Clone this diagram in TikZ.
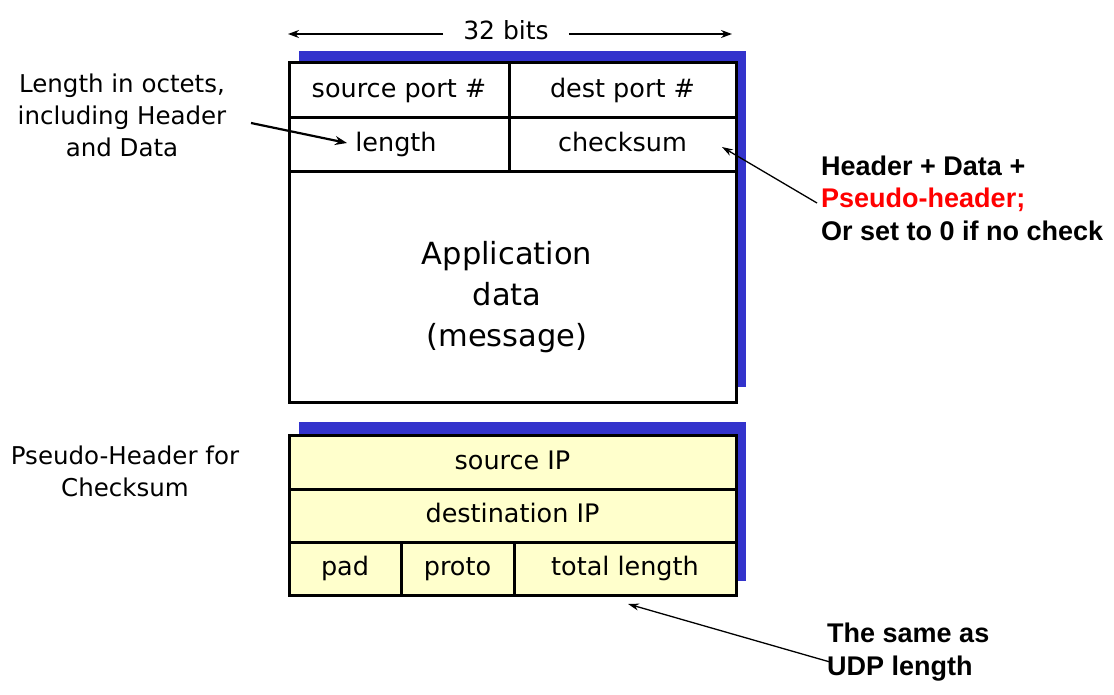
\documentclass[tikz,border=0pt]{standalone}
\usepackage{fontspec}
\setmainfont{DejaVu Sans}
\newfontfamily\arialfont{Liberation Sans}
\usetikzlibrary{arrows.meta}
\definecolor{shadowblue}{HTML}{3333CC}
\definecolor{pseudoyellow}{HTML}{FFFFCC}
\definecolor{notered}{HTML}{FF0000}
\begin{document}
\begin{tikzpicture}[x=1pt,y=-1pt,
  cell/.style={draw=black, line width=3pt, inner sep=0pt, text height=19.5pt, text depth=5.5pt, font=\fontsize{25.5}{28}\selectfont},
  ycell/.style={cell, fill=pseudoyellow},
  note/.style={font=\fontsize{24.5}{32}\selectfont, align=center},
  bnote/.style={font=\arialfont\bfseries\fontsize{27}{32.5}\selectfont, align=left, inner sep=0pt},
  dimarrow/.style={-{Stealth[length=11pt,width=8pt]}, line width=1.8pt},
  ptr/.style={-{Stealth[length=11pt,width=7pt]}, line width=1.3pt},
  boldptr/.style={-{Stealth[length=12pt,width=9pt]}, line width=2.2pt}
]
\useasboundingbox (0,0) rectangle (1114,695);
% shadows
\fill[shadowblue] (299,51) rectangle (746,387);
\fill[shadowblue] (299,422) rectangle (746,581);
% 32 bits
\node[font=\fontsize{25}{28}\selectfont, inner xsep=20pt] (bits) at (506,30) {32 bits};
\coordinate (bl) at (288,34);
\coordinate (br) at (732,34);
\draw[dimarrow] (bits.west |- bl) -- (bl);
\draw[dimarrow] (bits.east |- br) -- (br);
% UDP header
\node[draw=black, line width=3pt, fill=white, minimum width=447pt, minimum height=230pt] (data) at (512.5,287) {};
\node[cell, fill=white, minimum width=220pt, minimum height=55pt] (sport) at (399,90.5) {source port \#};
\node[cell, fill=white, minimum width=227pt, minimum height=55pt] (dport) at (622.5,90.5) {dest port \#};
\node[cell, fill=white, minimum width=220pt, minimum height=54pt] (len) at (399,145) {\hspace*{-6pt}length};
\node[cell, fill=white, minimum width=227pt, minimum height=54pt] (cksum) at (622.5,145) {checksum};
\node[font=\fontsize{30.5}{41}\selectfont, align=center] (apptext) at (507,297) {Application\\data\\(message)};
% pseudo header
\node[ycell, minimum width=447pt, minimum height=54pt] (srcip) at (512.5,462) {source IP};
\node[ycell, minimum width=447pt, minimum height=53pt] (dstip) at (512.5,515.5) {destination IP};
\node[ycell, minimum width=112pt, minimum height=53pt] (pad) at (345,568.5) {pad};
\node[ycell, minimum width=113pt, minimum height=53pt] (proto) at (457.5,568.5) {proto};
\node[ycell, minimum width=222pt, minimum height=53pt] (tlen) at (625,568.5) {total length};
% notes
\node[note] (lennote) at (122,115) {Length in octets,\\including Header\\and Data};
\node[note] (phnote) at (125,471) {Pseudo-Header for\\Checksum};
\node[bnote, anchor=west] (cknote) at (821,198) {Header + Data +\\\textcolor{notered}{Pseudo-header;}\\Or set to 0 if no check};
\node[bnote, anchor=west] (udpnote) at (827,652) {The same as\\UDP length};
% pointers
\coordinate (lenfrom) at (251,123);
\coordinate (lento) at (347,143);
\coordinate (ckfrom) at (817,203);
\coordinate (ckto) at (722,147);
\coordinate (udpfrom) at (830,662);
\coordinate (udpto) at (628,604);
\draw[boldptr] (lenfrom) -- (lento);
\draw[ptr] (ckfrom) -- (ckto);
\draw[ptr] (udpfrom) -- (udpto);
\end{tikzpicture}
\end{document}
